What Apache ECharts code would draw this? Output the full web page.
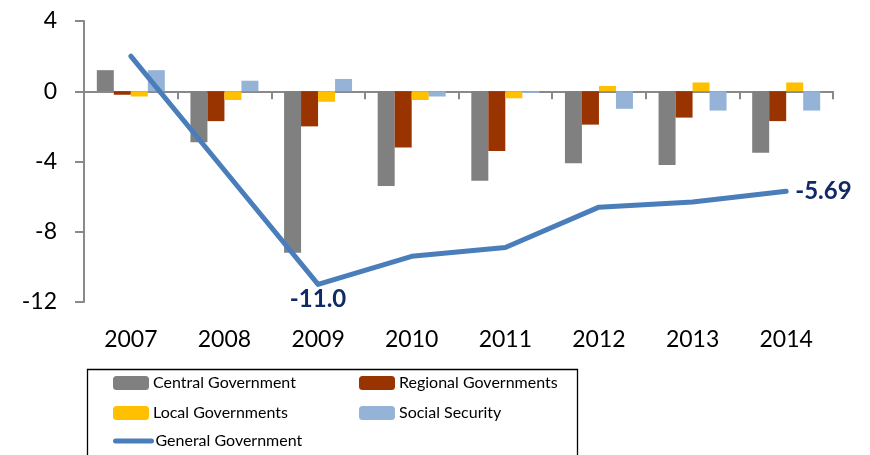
<!DOCTYPE html>
<html>
<head>
<meta charset="utf-8">
<script src="https://cdn.jsdelivr.net/npm/echarts@6/dist/echarts.min.js"></script>
<style>
  html, body { margin: 0; padding: 0; background: #fff; }
  #chart { width: 870px; height: 455px; }
</style>
</head>
<body>
<div id="chart"></div>
<script>
// Budget balance by level of government, % of GDP
const years = ['2007', '2008', '2009', '2010', '2011', '2012', '2013', '2014'];
const centralGov = [1.2, -2.9, -9.2, -5.4, -5.1, -4.1, -4.2, -3.5];
const regionalGov = [-0.2, -1.7, -2.0, -3.2, -3.4, -1.9, -1.5, -1.7];
const localGov = [-0.3, -0.5, -0.6, -0.5, -0.4, 0.3, 0.5, 0.5];
const socialSecurity = [1.2, 0.6, 0.7, -0.3, -0.1, -1.0, -1.1, -1.1];
const generalGov = [2.0, -4.5, -11.0, -9.4, -8.9, -6.6, -6.3, -5.69];
const yTicks = { min: -12, max: 4, step: 4 };

// points of the total line that carry a value label, with their placement and decimals
const labelled = { 2: { position: 'bottom', distance: 3, digits: 1 }, 7: { position: 'right', distance: 9, digits: 2 } };

const FONT = 'Lato, "Open Sans", sans-serif';
const AXIS_GRAY = '#898989';
const LINE_BLUE = '#4A7EBB';

const chart = echarts.init(document.getElementById('chart'), null, { renderer: 'canvas' });

function barSeries(name, values, color) {
  return {
    name: name,
    type: 'bar',
    xAxisIndex: 0,
    data: values,
    barWidth: 17,
    barGap: '0%',
    itemStyle: { color: color },
    z: 2
  };
}

// one legend block per entry so the two columns line up like a boxed key
function legendEntry(item, left, top) {
  return {
    left: left, top: top, orient: 'horizontal', padding: 0,
    itemWidth: 36, itemHeight: 14,
    textStyle: { fontFamily: FONT, fontSize: 16, color: '#000', lineHeight: 20, padding: [0, 0, 0, -1] },
    lineStyle: { width: 5, cap: 'round' },
    data: [item]
  };
}

const lineData = generalGov.map(function (v, i) {
  const cfg = labelled[i];
  if (!cfg) return v;
  return {
    value: v,
    label: {
      show: true,
      position: cfg.position,
      distance: cfg.distance,
      formatter: function (p) { return p.value.toFixed(cfg.digits); }
    }
  };
});

chart.setOption({
  animation: false,
  backgroundColor: '#ffffff',
  grid: { left: 84, right: 37, top: 21, bottom: 153, containLabel: false },
  xAxis: [
    {
      type: 'category',
      data: years,
      boundaryGap: true,
      axisLine: { show: true, onZero: true, lineStyle: { color: AXIS_GRAY, width: 2 } },
      axisTick: { show: true, length: 8, alignWithLabel: false, lineStyle: { color: AXIS_GRAY, width: 2 } },
      axisLabel: { show: false },
      splitLine: { show: false }
    },
    {
      type: 'category',
      data: years,
      position: 'bottom',
      boundaryGap: true,
      axisLine: { show: false, onZero: false },
      axisTick: { show: false },
      axisLabel: { show: true, margin: 26, color: '#000', fontFamily: FONT, fontSize: 23 },
      splitLine: { show: false }
    }
  ],
  yAxis: {
    type: 'value',
    min: yTicks.min,
    max: yTicks.max,
    interval: yTicks.step,
    axisLine: { show: true, lineStyle: { color: AXIS_GRAY, width: 2 } },
    axisTick: { show: true, length: 9, lineStyle: { color: AXIS_GRAY, width: 2 } },
    axisLabel: { margin: 27, color: '#000', fontFamily: FONT, fontSize: 23 },
    splitLine: { show: false }
  },
  legend: [
    legendEntry('Central Government', 113, 373),
    legendEntry('Regional Governments', 359, 373),
    legendEntry('Local Governments', 113, 403),
    legendEntry('Social Security', 359, 403),
    legendEntry({ name: 'General Government', itemStyle: { opacity: 0 } }, 113, 431)
  ],
  graphic: [
    {
      type: 'rect',
      left: 85, top: 367,
      shape: { width: 490, height: 120 },
      style: { fill: 'none', stroke: '#000', lineWidth: 1.3 },
      z: -1
    }
  ],
  series: [
    barSeries('Central Government', centralGov, '#808080'),
    barSeries('Regional Governments', regionalGov, '#993300'),
    barSeries('Local Governments', localGov, '#FFC000'),
    barSeries('Social Security', socialSecurity, '#95B3D7'),
    {
      name: 'General Government',
      type: 'line',
      xAxisIndex: 0,
      data: lineData,
      symbol: 'circle',
      symbolSize: 0,
      showSymbol: true,
      lineStyle: { color: LINE_BLUE, width: 5, cap: 'round', join: 'round' },
      itemStyle: { color: LINE_BLUE },
      label: {
        show: false,
        color: '#0F2A64',
        fontFamily: FONT,
        fontWeight: 'bold',
        fontSize: 24
      },
      z: 5
    }
  ]
});
</script>
</body>
</html>
